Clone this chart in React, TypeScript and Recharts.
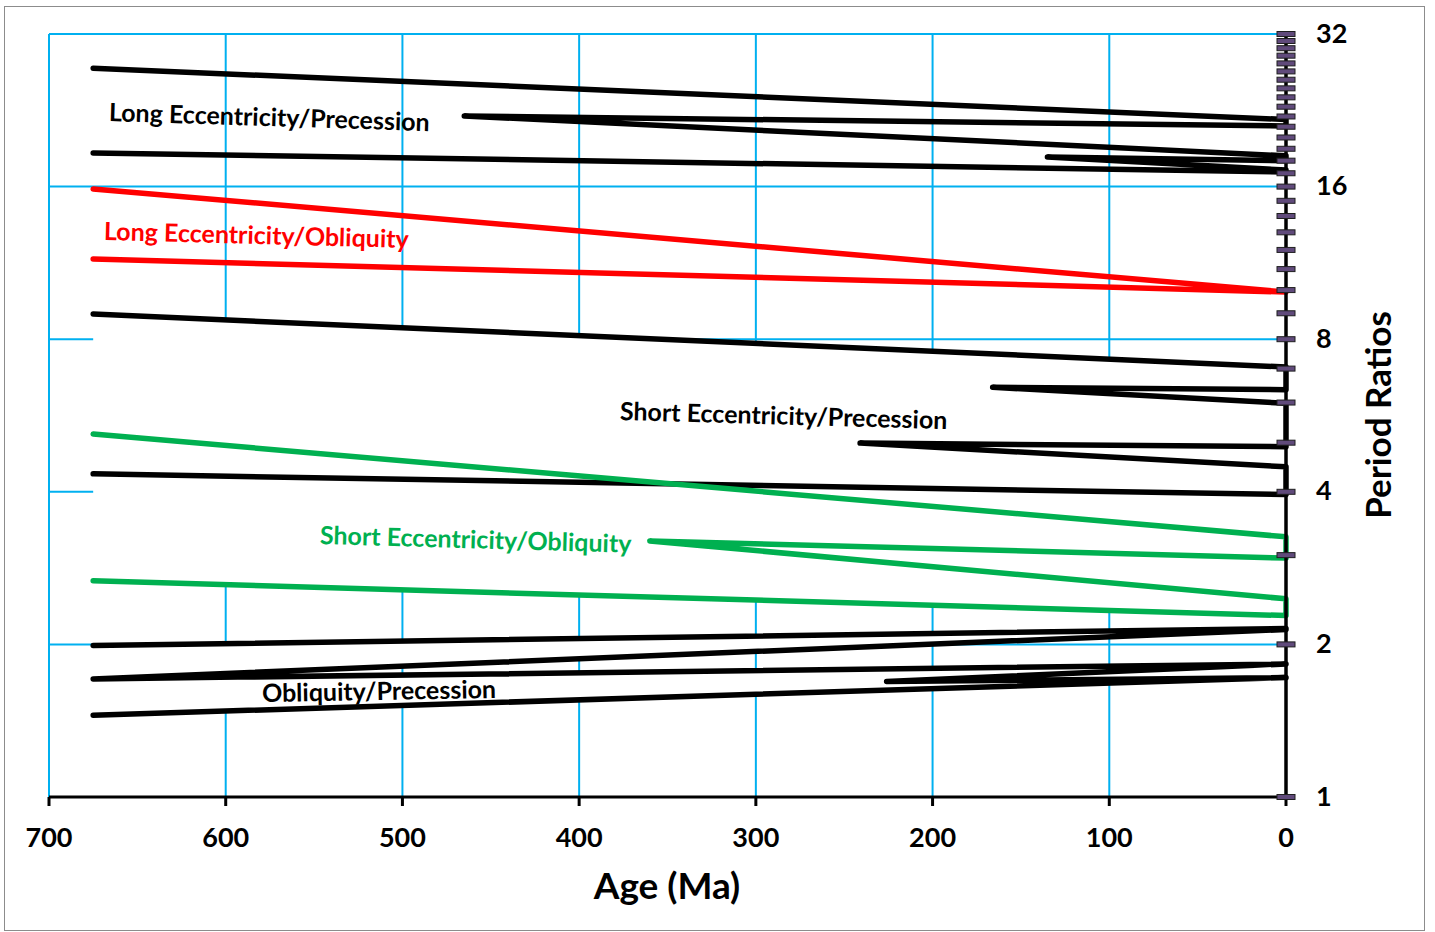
import React from "react"
import { Area, CartesianGrid, ComposedChart, Line, XAxis, YAxis } from "recharts"

// ages in Ma, ratios; polylines close through age 0
const LONG_PREC_AGES = [675, 0, 0, 465, 0, 0, 135, 0, 0, 675]
const LONG_PREC_RATIOS = [27.4, 21.7, 21.07, 22.05, 18.4, 18.0, 18.3, 17.25, 17.1, 18.64]

const LONG_OBL_AGES = [675, 0, 675]
const LONG_OBL_RATIOS = [15.83, 9.91, 11.52]

const SHORT_PREC_AGES = [675, 0, 0, 166, 0, 0, 241, 0, 0, 675]
const SHORT_PREC_RATIOS = [8.97, 7.05, 6.36, 6.43, 5.98, 4.91, 4.99, 4.48, 3.95, 4.34]

const SHORT_OBL_AGES = [675, 0, 0, 360, 0, 0, 675]
const SHORT_OBL_RATIOS = [5.2, 3.26, 2.96, 3.2, 2.46, 2.28, 2.67]

const OBL_PREC_AGES = [675, 0, 0, 675, 0, 226, 0, 675]
const OBL_PREC_RATIOS = [1.99, 2.15, 2.14, 1.71, 1.83, 1.69, 1.72, 1.45]

const AGE_TICKS = [0, 100, 200, 300, 400, 500, 600, 700]
const RATIO_TICKS = [1, 2, 4, 8, 16, 32]
const RATIO_MARKS = [
  1, 2, 3, 4, 5, 6, 7, 8, 9, 10, 11, 12, 13, 14, 15, 16, 17, 18, 19, 20, 21, 22, 23, 24, 25, 26, 27, 28,
  29, 30, 31, 32,
]

const FONT = "Lato, 'Open Sans', sans-serif"
const BLACK = "#000000"
const RED = "#FF0000"
const GREEN = "#00B050"
const GRID = "#00B0F0"

function toPoints(ages: number[], ratios: number[]) {
  return ages.map((age, i) => ({ age, ratio: ratios[i] }))
}

// white bands between line pairs, the grid is hidden there in the original
function band(loStart: number, loEnd: number, hiStart: number, hiEnd: number) {
  return [
    { age: 675, band: [loStart, hiStart] },
    { age: 0, band: [loEnd, hiEnd] },
  ]
}

const MASKS = [
  band(SHORT_OBL_RATIOS[6], SHORT_OBL_RATIOS[5], SHORT_PREC_RATIOS[0], SHORT_PREC_RATIOS[1]),
  band(OBL_PREC_RATIOS[3], OBL_PREC_RATIOS[2], OBL_PREC_RATIOS[0], OBL_PREC_RATIOS[1]),
  band(OBL_PREC_RATIOS[7], OBL_PREC_RATIOS[6], OBL_PREC_RATIOS[3], OBL_PREC_RATIOS[4]),
]

const SERIES = [
  { key: "long-prec", color: BLACK, data: toPoints(LONG_PREC_AGES, LONG_PREC_RATIOS) },
  { key: "long-obl", color: RED, data: toPoints(LONG_OBL_AGES, LONG_OBL_RATIOS) },
  { key: "short-prec", color: BLACK, data: toPoints(SHORT_PREC_AGES, SHORT_PREC_RATIOS) },
  { key: "short-obl", color: GREEN, data: toPoints(SHORT_OBL_AGES, SHORT_OBL_RATIOS) },
  { key: "obl-prec", color: BLACK, data: toPoints(OBL_PREC_AGES, OBL_PREC_RATIOS) },
]

const MARK_DATA = RATIO_MARKS.map((ratio) => ({ age: 0, ratio }))

function AgeTick(props: any) {
  const { x, y, payload } = props
  return (
    <text
      x={x}
      y={y + 28}
      textAnchor="middle"
      dominantBaseline="central"
      fontFamily={FONT}
      fontWeight={700}
      fontSize={27}
      fill={BLACK}
    >
      {payload.value}
    </text>
  )
}

function RatioTick(props: any) {
  const { x, y, payload } = props
  return (
    <text
      x={x + 22}
      y={y - 2}
      textAnchor="start"
      dominantBaseline="central"
      fontFamily={FONT}
      fontWeight={700}
      fontSize={27}
      fill={BLACK}
    >
      {payload.value}
    </text>
  )
}

function DashMark(props: any) {
  const { cx, cy, index } = props
  if (cx == null || cy == null) return <g key={index} />
  return (
    <rect
      key={index}
      x={cx - 9}
      y={cy - 2.5}
      width={18}
      height={5}
      fill="#604A7B"
      stroke="#1f1f1f"
      strokeWidth={1}
    />
  )
}

const labels = [
  { text: "Long Eccentricity/Precession", color: BLACK, left: 109, top: 97, angle: 1.8 },
  { text: "Long Eccentricity/Obliquity", color: RED, left: 104, top: 216, angle: 1.5 },
  { text: "Short Eccentricity/Precession", color: BLACK, left: 620, top: 396, angle: 1.6 },
  { text: "Short Eccentricity/Obliquity", color: GREEN, left: 320, top: 520, angle: 1.6 },
  { text: "Obliquity/Precession", color: BLACK, left: 262, top: 678, angle: -1 },
]

export default function App() {
  return (
    <div style={{ position: "absolute", left: 0, top: 0, width: 1435, height: 932, background: "#fff" }}>
      <div
        style={{
          position: "absolute",
          left: 4,
          top: 6,
          width: 1421,
          height: 925,
          border: "1px solid #8c8c8c",
          boxSizing: "border-box",
        }}
      />
      <div style={{ position: "absolute", left: 0, top: 0 }}>
        <ComposedChart width={1435} height={932} margin={{ top: 34, left: 49, right: 49, bottom: 75 }}>
          <CartesianGrid stroke={GRID} strokeWidth={2} />
          <XAxis
            dataKey="age"
            type="number"
            domain={[0, 700]}
            ticks={AGE_TICKS}
            reversed
            height={60}
            tickSize={9}
            axisLine={{ stroke: BLACK, strokeWidth: 3 }}
            tickLine={{ stroke: BLACK, strokeWidth: 3 }}
            tick={<AgeTick />}
          />
          <YAxis
            dataKey="ratio"
            type="number"
            scale="log"
            domain={[1, 32]}
            ticks={RATIO_TICKS}
            orientation="right"
            width={100}
            axisLine={false}
            tickLine={false}
            tick={<RatioTick />}
          />
          {MASKS.map((m, i) => (
            <Area
              key={`mask-${i}`}
              data={m}
              dataKey="band"
              type="linear"
              stroke="none"
              fill="#ffffff"
              fillOpacity={1}
              isAnimationActive={false}
            />
          ))}
          {SERIES.map((s) => (
            <Line
              key={s.key}
              data={s.data}
              dataKey="ratio"
              type="linear"
              stroke={s.color}
              strokeWidth={5.5}
              strokeLinecap="round"
              strokeLinejoin="round"
              dot={false}
              isAnimationActive={false}
            />
          ))}
          <Line
            data={MARK_DATA}
            dataKey="ratio"
            type="linear"
            stroke={BLACK}
            strokeWidth={3.5}
            dot={(p: any) => <DashMark key={p.index} {...p} />}
            isAnimationActive={false}
          />
        </ComposedChart>
      </div>
      {labels.map((l) => (
        <div
          key={l.text}
          style={{
            position: "absolute",
            left: l.left,
            top: l.top,
            color: l.color,
            fontFamily: FONT,
            fontWeight: 700,
            fontSize: 25,
            lineHeight: "28px",
            whiteSpace: "nowrap",
            transform: `rotate(${l.angle}deg)`,
            transformOrigin: "left center",
          }}
        >
          {l.text}
        </div>
      ))}
      <div
        style={{
          position: "absolute",
          left: 517,
          top: 862,
          width: 300,
          textAlign: "center",
          fontFamily: FONT,
          fontWeight: 700,
          fontSize: 37,
          lineHeight: "46px",
          color: BLACK,
        }}
      >
        Age (Ma)
      </div>
      <div
        style={{
          position: "absolute",
          left: 1377 - 150,
          top: 415 - 23,
          width: 300,
          textAlign: "center",
          fontFamily: FONT,
          fontWeight: 700,
          fontSize: 35,
          lineHeight: "46px",
          color: BLACK,
          transform: "rotate(-90deg)",
          transformOrigin: "center center",
        }}
      >
        Period Ratios
      </div>
    </div>
  )
}
